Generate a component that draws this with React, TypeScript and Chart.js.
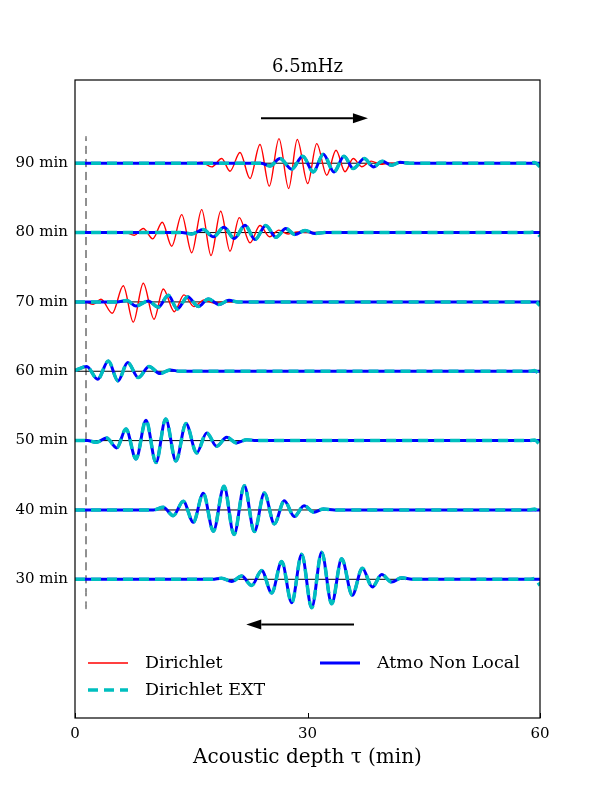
import { useEffect, useRef } from 'react';
import { Chart, registerables } from 'chart.js';

Chart.register(...registerables);

const FONT = '"DejaVu Serif", serif';

// ---------- data ----------
const title = '6.5mHz';
const xTitle = 'Acoustic depth τ (min)';
const seriesNames = ['Dirichlet', 'Atmo Non Local', 'Dirichlet EXT'];
const levels = [30, 40, 50, 60, 70, 80, 90];
const xTicks = [0, 30, 60];

type P = [number, number];

// wave packets: [acoustic depth, offset from trace level]
const red90: P[] = [[15.2, 0], [16.35, 0.14], [17.64, -0.53], [18.93, 0.68], [20.0, -1.15], [21.29, 1.54], [22.58, -2.21], [23.87, 2.69], [25.07, -3.31], [26.32, 3.55], [27.57, -3.64], [28.68, 3.41], [30.03, -2.92], [31.19, 2.83], [32.48, -1.73], [33.68, 1.87], [34.84, -1.22], [35.9, 0.67], [37.0, -0.5], [38.2, 0.3], [39.4, -0.15], [40.6, 0]];
const red80: P[] = [[6.5, 0], [7.65, -0.39], [8.81, 0.58], [10.03, -0.91], [11.26, 1.48], [12.48, -1.97], [13.77, 2.59], [15.06, -2.92], [16.35, 3.31], [17.55, -3.31], [18.8, 3.07], [20.0, -2.69], [21.2, 2.16], [22.58, -1.48], [23.87, 1.01], [25.1, -0.6], [26.3, 0.35], [27.5, -0.2], [28.7, 0.1], [29.9, 0]];
const red70: P[] = [[1.2, 0], [2.36, -0.33], [3.35, 0.39], [4.81, -1.63], [6.23, 2.34], [7.52, -2.92], [8.81, 2.69], [10.19, -2.49], [11.39, 1.87], [12.81, -1.41], [14.06, 1.01], [15.35, -0.67], [16.65, 0.29], [17.9, -0.15], [19.1, 0]];

const blue90: P[] = [[24.0, 0], [25.16, -0.39], [26.45, 0.68], [27.96, -0.86], [29.38, 1.01], [30.75, -1.25], [32.04, 1.29], [33.42, -1.25], [34.71, 1.01], [35.9, -0.77], [37.33, 0.68], [38.49, -0.53], [39.65, 0.29], [40.86, -0.29], [41.94, 0.14], [43.2, 0]];
const blue80: P[] = [[13.8, 0], [15.06, -0.19], [16.55, 0.43], [17.85, -0.62], [19.23, 0.76], [20.55, -0.86], [21.94, 1.05], [23.23, -1.01], [24.61, 1.01], [25.94, -0.68], [27.19, 0.58], [28.39, -0.29], [29.68, 0.29], [30.97, -0.14], [32.2, 0]];
const blue70: P[] = [[5.4, 0], [6.67, 0.19], [7.87, -0.58], [9.46, 0.14], [10.75, -0.76], [12.04, 0.96], [13.2, -1.01], [14.54, 0.76], [15.91, -0.67], [17.2, 0.43], [18.58, -0.38], [19.87, 0.24], [21.03, 0]];
const blue60: P[] = [[0, 0.1], [1.51, 0.67], [2.93, -1.15], [4.3, 1.48], [5.55, -1.39], [6.8, 1.25], [8.17, -0.91], [9.55, 0.67], [10.97, -0.33], [12.26, 0.19], [13.55, 0]];
const blue50: P[] = [[1.6, 0], [2.8, -0.24], [4.09, 0.39], [5.38, -1.06], [6.58, 1.67], [7.87, -2.64], [9.16, 2.92], [10.45, -3.17], [11.7, 3.12], [13.03, -2.93], [14.32, 2.45], [15.7, -1.77], [16.99, 1.11], [18.28, -0.82], [19.57, 0.47], [20.86, -0.33], [22.15, 0.14], [23.4, 0]];
const blue40: P[] = [[10.1, 0], [11.39, 0.39], [12.68, -0.82], [13.97, 1.25], [15.26, -1.77], [16.55, 2.4], [17.85, -3.06], [19.23, 3.41], [20.52, -3.55], [21.85, 3.5], [23.14, -3.12], [24.43, 2.45], [25.72, -2.01], [27.01, 1.34], [28.3, -0.96], [29.55, 0.62], [30.84, -0.33], [32.04, 0.14], [33.5, 0]];
const blue30: P[] = [[17.7, 0], [18.92, 0.17], [20.22, -0.31], [21.51, 0.46], [22.8, -0.89], [24.09, 1.27], [25.38, -1.98], [26.67, 2.56], [27.96, -3.38], [29.25, 3.6], [30.54, -4.1], [31.83, 3.91], [33.12, -3.53], [34.41, 2.95], [35.78, -2.3], [37.07, 1.61], [38.36, -1.12], [39.57, 0.69], [40.86, -0.4], [42.15, 0.22], [43.5, 0]];

// traces per level (30 .. 90)
const dirichlet = [blue30, blue40, blue50, blue60, red70, red80, red90];
const atmoNonLocal = [blue30, blue40, blue50, blue60, blue70, blue80, blue90];
const dirichletExt = [blue30, blue40, blue50, blue60, blue70, blue80, blue90];
// end-of-domain behaviour of Dirichlet EXT (30 .. 90)
const extTailX = [58.6, 59.3, 60];
const extTailBump = [0.12, 0.12, 0.1, 0.1, 0.1, 0.1, 0.1];
const extTailDip = [-0.9, -0.8, -0.6, -0.6, -0.5, -0.5, -0.5];

// vertical dashed marker and arrows (data coordinates)
const markerX = 1.42;
const markerY = [25.7, 93.9];
const arrows: [number, number, number][] = [
  [24.0, 37.8, 96.5],
  [36.0, 22.1, 23.5],
];

// ---------- helpers ----------
function buildTrace(level: number, pts: P[], tail?: P[]) {
  const out: { x: number; y: number }[] = [];
  if (pts[0][0] > 0) out.push({ x: 0, y: level });
  pts.forEach(([x, d]) => out.push({ x, y: level + d }));
  if (tail) tail.forEach(([x, d]) => out.push({ x, y: level + d }));
  else out.push({ x: 60, y: level });
  return out;
}

const RED = '#ff0000';
const BLUE = '#0000ff';
const CYAN = '#00bfbf';

function makeDatasets() {
  const ds: any[] = [];
  const common = { pointRadius: 0, fill: false, cubicInterpolationMode: 'monotone' as const };
  levels.forEach((L, i) => {
    ds.push({ ...common, data: [{ x: 0, y: L }, { x: 60, y: L }], borderColor: '#000', borderWidth: 1, order: 3 });
    ds.push({ ...common, data: buildTrace(L, dirichlet[i]), borderColor: RED, borderWidth: 1.4, order: 2 });
    ds.push({ ...common, data: buildTrace(L, atmoNonLocal[i]), borderColor: BLUE, borderWidth: 3, order: 1 });
    const tail: P[] = [[extTailX[0], 0], [extTailX[1], extTailBump[i]], [extTailX[2], extTailDip[i]]];
    ds.push({ ...common, data: buildTrace(L, dirichletExt[i], tail), borderColor: CYAN, borderWidth: 3.5, borderDash: [10, 6], order: 0 });
  });
  ds.push({ ...common, data: [{ x: markerX, y: markerY[0] }, { x: markerX, y: markerY[1] }], borderColor: '#222', borderWidth: 1, borderDash: [8, 5], order: 4 });
  return ds;
}

const decor = {
  id: 'decor',
  afterDatasetsDraw(chart: any) {
    const { ctx, chartArea: a, scales } = chart;
    const xs = scales.x;
    const ys = scales.y;
    ctx.save();
    // frame
    ctx.strokeStyle = '#000';
    ctx.lineWidth = 1.2;
    ctx.strokeRect(a.left, a.top, a.right - a.left, a.bottom - a.top);
    // inner ticks on x
    ctx.lineWidth = 1;
    xTicks.forEach((v) => {
      const px = Math.round(xs.getPixelForValue(v)) + 0.5;
      ctx.beginPath();
      ctx.moveTo(px, a.bottom);
      ctx.lineTo(px, a.bottom - 5);
      ctx.stroke();
    });
    // arrows
    ctx.fillStyle = '#000';
    arrows.forEach(([x0, x1, y]) => {
      const p0 = xs.getPixelForValue(x0);
      const p1 = xs.getPixelForValue(x1);
      const py = ys.getPixelForValue(y);
      const dir = Math.sign(p1 - p0);
      const head = 15;
      ctx.lineWidth = 2;
      ctx.beginPath();
      ctx.moveTo(p0, py);
      ctx.lineTo(p1 - dir * head, py);
      ctx.stroke();
      ctx.beginPath();
      ctx.moveTo(p1, py);
      ctx.lineTo(p1 - dir * head, py - 5);
      ctx.lineTo(p1 - dir * head, py + 5);
      ctx.closePath();
      ctx.fill();
    });
    // title
    ctx.font = `18px ${FONT}`;
    ctx.textAlign = 'center';
    ctx.textBaseline = 'middle';
    ctx.fillText(title, (a.left + a.right) / 2, 67);
    // legend
    const entries = [
      { name: seriesNames[0], color: RED, width: 1.4, dash: [] as number[], x: 88, y: 663 },
      { name: seriesNames[1], color: BLUE, width: 3, dash: [] as number[], x: 320, y: 663 },
      { name: seriesNames[2], color: CYAN, width: 3.5, dash: [10, 6], x: 88, y: 690 },
    ];
    ctx.font = `17.5px ${FONT}`;
    ctx.textAlign = 'left';
    entries.forEach((e) => {
      ctx.strokeStyle = e.color;
      ctx.lineWidth = e.width;
      ctx.setLineDash(e.dash);
      ctx.beginPath();
      ctx.moveTo(e.x, e.y);
      ctx.lineTo(e.x + 40, e.y);
      ctx.stroke();
      ctx.setLineDash([]);
      ctx.fillStyle = '#000';
      ctx.fillText(e.name, e.x + 57, e.y);
    });
    ctx.restore();
  },
};

export default function App() {
  const ref = useRef<HTMLCanvasElement>(null);
  useEffect(() => {
    document.body.style.margin = '0';
    const chart = new Chart(ref.current as HTMLCanvasElement, {
      type: 'line',
      data: { datasets: makeDatasets() },
      options: {
        animation: false,
        responsive: false,
        events: [],
        layout: { padding: { left: 0, right: 60, top: 80, bottom: 0 } },
        plugins: { legend: { display: false }, tooltip: { enabled: false }, title: { display: false } },
        scales: {
          x: {
            type: 'linear',
            min: 0,
            max: 60,
            afterFit: (s: any) => { s.height = 82; },
            afterBuildTicks: (s: any) => { s.ticks = xTicks.map((v) => ({ value: v })); },
            grid: { display: false, drawTicks: false },
            border: { display: false },
            ticks: { autoSkip: false, maxRotation: 0, padding: 7, color: '#000', font: { family: FONT, size: 15 } },
            title: { display: true, text: xTitle, color: '#000', font: { family: FONT, size: 20 }, padding: { top: 0, bottom: 30 } },
          },
          y: {
            type: 'linear',
            min: 10,
            max: 102,
            afterFit: (s: any) => { s.width = 75; },
            afterBuildTicks: (s: any) => { s.ticks = levels.map((v) => ({ value: v })); },
            grid: { display: false, drawTicks: false },
            border: { display: false },
            ticks: { autoSkip: false, padding: 7, color: '#000', font: { family: FONT, size: 15 }, callback: (v: any) => `${v} min` },
          },
        },
      },
      plugins: [decor],
    } as any);
    return () => chart.destroy();
  }, []);
  return (
    <div style={{ width: 600, height: 800 }}>
      <canvas ref={ref} width={600} height={800} style={{ display: 'block' }} />
    </div>
  );
}
